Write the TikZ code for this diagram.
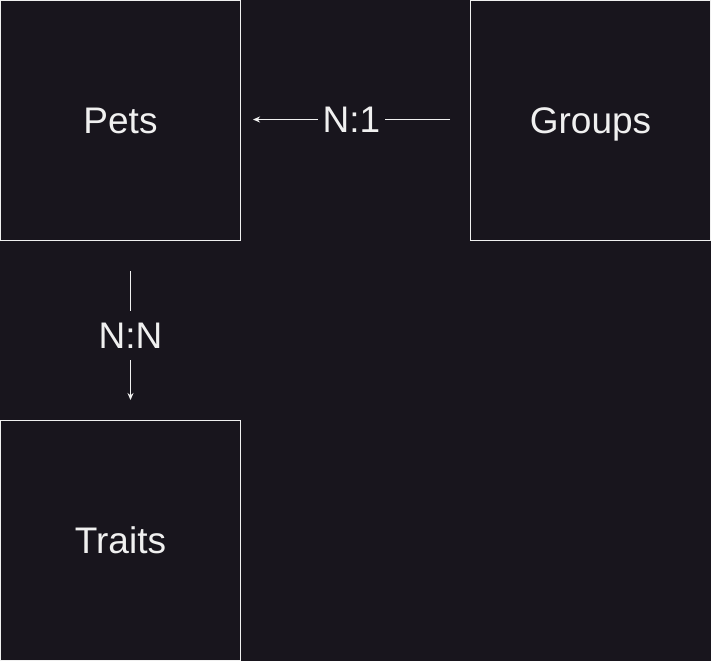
\documentclass[tikz,border=0pt]{standalone}
\usepackage{fontspec}
\setmainfont{Liberation Sans}
\usetikzlibrary{arrows.meta}
\definecolor{bg}{HTML}{18151D}
\definecolor{fg}{HTML}{F0F0F0}
\begin{document}
\begin{tikzpicture}[x=1pt,y=-1pt,
  bigfont/.style={font=\fontsize{37pt}{42pt}\selectfont,text height=26.5pt,text depth=0pt},
  entity/.style={draw=fg,fill=bg,line width=1pt,minimum width=240pt,minimum height=240pt,inner sep=0pt,
    text=fg,bigfont},
  conn/.style={draw=fg,line width=1pt,-{Stealth[length=7pt,width=6pt]}},
  lbl/.style={fill=bg,text=fg,bigfont,inner xsep=4.5pt,inner ysep=11pt}]
\fill[bg] (0,0) rectangle (711,661);
\useasboundingbox (0,0) rectangle (711,661);
\node[entity] (pets) at (120.5,120.5) {Pets};
\node[entity] (groups) at (590.5,120.5) {Groups};
\node[entity] (traits) at (120.5,540.5) {Traits};
\coordinate (g1) at ([xshift=-20pt,yshift=1pt]groups.west);
\coordinate (p1) at ([xshift=12pt,yshift=1pt]pets.east);
\coordinate (p2) at ([xshift=10pt,yshift=-30pt]pets.south);
\coordinate (t1) at ([xshift=10pt,yshift=20pt]traits.north);
\draw[conn] (g1) -- node[lbl] {N:1} (p1);
\draw[conn] (p2) -- node[lbl] {N:N} (t1);
\end{tikzpicture}
\end{document}
